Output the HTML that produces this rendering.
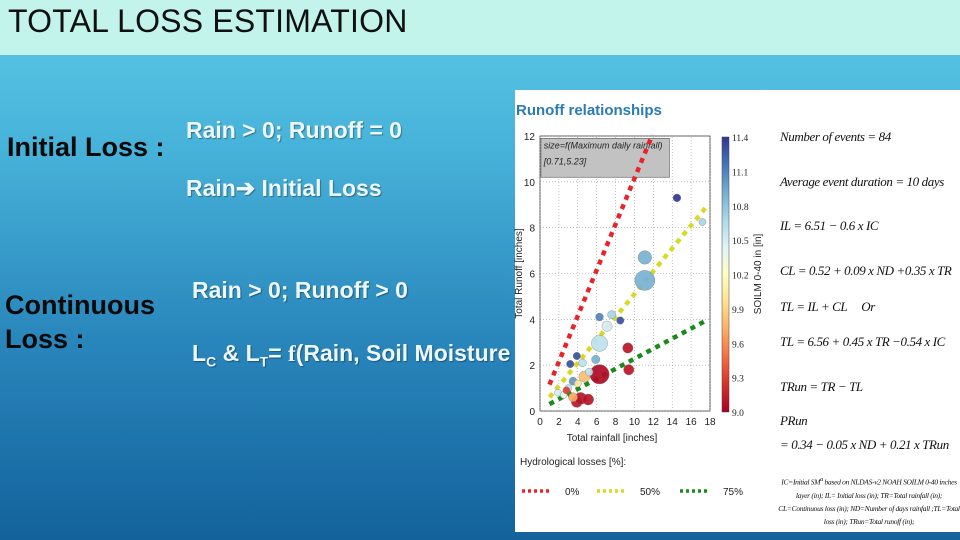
<!DOCTYPE html>
<html><head><meta charset="utf-8"><style>
html,body{margin:0;padding:0}
body{width:960px;height:540px;position:relative;overflow:hidden;font-family:"Liberation Sans",sans-serif;
background:linear-gradient(180deg,#5cc9e7 0px,#47b2d9 150px,#2a88bd 330px,#13629c 540px)}
#titlebar{position:absolute;left:0;top:0;width:960px;height:55px;background:#c3f4ec}
#title{position:absolute;left:8px;top:3px;font-size:32px;color:#111;letter-spacing:0.2px}
.lbl{position:absolute;font-weight:bold;color:#0a0a0a;font-size:27px;line-height:34px}
.wt{position:absolute;font-weight:bold;color:#eef7fb;font-size:23px;text-shadow:1px 1px 1px rgba(0,0,0,.35);white-space:nowrap}
#panel{position:absolute;left:515px;top:90px;width:445px;height:442px;background:#fff}
.eq{position:absolute;font-family:"Liberation Serif",serif;font-style:italic;font-size:13px;letter-spacing:-0.4px;color:#111;white-space:nowrap}
.fn{position:absolute;left:778px;width:182px;font-family:"Liberation Serif",serif;font-style:italic;font-size:7.5px;letter-spacing:-0.3px;line-height:13px;text-align:center;color:#111}
</style></head><body>
<div id="titlebar"><div id="title">TOTAL LOSS ESTIMATION</div></div>
<div class="lbl" style="left:7px;top:130px">Initial Loss :</div>
<div class="wt" style="left:186px;top:117px">Rain &gt; 0; Runoff = 0</div>
<div class="wt" style="left:186px;top:175px">Rain➔ Initial Loss</div>
<div class="lbl" style="left:5px;top:288px;line-height:34px">Continuous<br>Loss :</div>
<div class="wt" style="left:192px;top:277px">Rain &gt; 0; Runoff &gt; 0</div>
<div class="wt" style="left:192px;top:340px">L<sub style="font-size:14px">C</sub> &amp; L<sub style="font-size:14px">T</sub>= <span style="font-family:'Liberation Serif',serif">f</span>(Rain, Soil Moisture</div>
<div id="panel"></div>
<svg id="chart" width="960" height="540" style="position:absolute;left:0;top:0"></svg>
<div class="eq" style="left:780px;top:129px">Number of events = 84</div>
<div class="eq" style="left:780px;top:174px">Average event duration = 10 days</div>
<div class="eq" style="left:780px;top:218px">IL = 6.51 − 0.6 x IC</div>
<div class="eq" style="left:780px;top:263px">CL = 0.52 + 0.09 x ND +0.35 x TR</div>
<div class="eq" style="left:780px;top:299px">TL = IL + CL &nbsp;&nbsp;&nbsp; Or</div>
<div class="eq" style="left:780px;top:334px">TL = 6.56 + 0.45 x TR −0.54 x IC</div>
<div class="eq" style="left:780px;top:379px">TRun = TR − TL</div>
<div class="eq" style="left:780px;top:413px">PRun</div>
<div class="eq" style="left:780px;top:437px">= 0.34 − 0.05 x ND + 0.21 x TRun</div>
<div class="fn" style="top:473px">IC=Initial SM<sup>a</sup> based on NLDAS-v2 NOAH SOILM 0-40 inches layer (in); IL= Initial loss (in); TR=Total rainfall (in); CL=Continuous loss (in); ND=Number of days rainfall ;TL=Total loss (in); TRun=Total runoff (in);</div>
<script>
const xTicks=[0,2,4,6,8,10,12,14,16,18];
const yTicks=[0,2,4,6,8,10,12];
const cbTicks=[9.0,9.3,9.6,9.9,10.2,10.5,10.8,11.1,11.4];
const lossLabels=['0%','50%','75%'];
const lineSlopes=[1.0,0.5,0.22];
const lineIntercepts=[0.15,0.1,0.08];
const lineEnds=[11.9,17.6,17.6];
const ptX=[14.5,17.2,11.1,11.1,6.3,7.6,8.5,7.1,6.3,9.3,9.4,6.3,5.9,3.9,3.2,4.5,4.7,3.5,3.0,3.9,4.3,5.1,3.5,1.9,2.5,2.8,5.2,4.0];
const ptY=[9.3,8.25,6.7,5.7,4.1,4.2,3.95,3.7,2.95,2.75,1.8,1.6,2.25,2.4,2.05,2.1,1.5,1.3,1.0,0.4,0.55,0.5,0.6,0.8,0.7,0.9,1.7,1.2];
const ptSize=[1.2,1.0,3.0,5.0,1.2,1.4,1.1,2.0,3.8,2.0,2.0,4.8,1.4,1.1,1.1,1.2,2.2,1.3,1.0,2.2,2.5,2.2,1.6,0.9,0.9,1.0,1.2,1.0];
const ptSoil=[11.4,10.7,10.9,10.9,11.1,10.7,11.3,10.5,10.6,9.1,9.1,9.05,10.9,11.3,11.3,10.6,9.8,11.0,10.6,9.1,9.1,9.1,9.7,10.5,10.4,9.3,10.6,10.0];
const ns='http://www.w3.org/2000/svg';
const svg=document.getElementById('chart');
const X0=540,X1=710,Y0=411,Y1=136;
const xs=v=>X0+(v-0)/(18-0)*(X1-X0);
const ys=v=>Y0-(v-0)/(12-0)*(Y0-Y1);
function mk(t,a,p){const e=document.createElementNS(ns,t);for(const k in a)e.setAttribute(k,a[k]);(p||svg).appendChild(e);return e;}
function cmap(s){const t=Math.max(0,Math.min(1,(s-9.0)/(11.4-9.0)));
const st=[[165,0,38],[215,48,39],[244,109,67],[253,174,97],[254,224,144],[255,255,191],[224,243,248],[171,217,233],[116,173,209],[69,117,180],[49,54,149]];
const f=t*(st.length-1),i=Math.min(st.length-2,Math.floor(f)),r=f-i;
const c=st[i].map((v,j)=>Math.round(v+(st[i+1][j]-v)*r));return `rgb(${c})`;}
let e;
e=mk('text',{x:516,y:115,'font-size':15,'font-weight':'bold',fill:'#2b7bb5','font-family':'Liberation Sans Narrow, Liberation Sans, sans-serif'});e.textContent='Runoff relationships';

mk('rect',{x:X0,y:Y1,width:X1-X0,height:Y0-Y1,fill:'#fff',stroke:'#333','stroke-width':0.8});
xTicks.forEach(v=>{const g=mk('line',{x1:xs(v),x2:xs(v),y1:Y0,y2:Y1,stroke:'#999','stroke-dasharray':'1,2','stroke-width':0.6});

const t=mk('text',{x:xs(v),y:Y0+14,'font-size':10,'text-anchor':'middle',fill:'#222'});t.textContent=v;
});
yTicks.forEach(v=>{const g=mk('line',{x1:X0,x2:X1,y1:ys(v),y2:ys(v),stroke:'#999','stroke-dasharray':'1,2','stroke-width':0.6});

const t=mk('text',{x:X0-5,y:ys(v)+4,'font-size':10,'text-anchor':'end',fill:'#222'});t.textContent=v;
});
e=mk('rect',{x:xs(0.1),y:ys(11.9),width:xs(13.7)-xs(0.1),height:ys(10.2)-ys(11.9),fill:'#c2c2c2',stroke:'#555','stroke-width':0.6});

e=mk('text',{x:xs(0.4),y:ys(11.45),'font-size':9,'font-style':'italic',fill:'#222'});e.textContent='size=f(Maximum daily rainfall)';

e=mk('text',{x:xs(0.4),y:ys(10.75),'font-size':9,'font-style':'italic',fill:'#222'});e.textContent='[0.71,5.23]';

const lineCols=['#e8242a','#d8d826','#1a8a1a'];
lineSlopes.forEach((m,i)=>{const l=mk('line',{x1:xs(1),y1:ys(lineIntercepts[i]+m*1),x2:xs(lineEnds[i]),y2:ys(lineIntercepts[i]+m*lineEnds[i]),stroke:lineCols[i],'stroke-width':4.5,'stroke-dasharray':'5,5'});
});
ptX.forEach((x,i)=>{const c=mk('circle',{cx:xs(x),cy:ys(ptY[i]),r:2+ptSize[i]*1.6,fill:cmap(ptSoil[i]),stroke:'#777','stroke-width':0.4,opacity:0.92});
});
e=mk('text',{x:612,y:441,'font-size':10,'text-anchor':'middle',fill:'#222'});e.textContent='Total rainfall [inches]';

e=mk('text',{x:0,y:0,'font-size':10,'text-anchor':'middle',fill:'#222',transform:`translate(522,${(Y0+Y1)/2}) rotate(-90)`});e.textContent='Total Runoff [inches]';

const defs=mk('defs',{});const gr=mk('linearGradient',{id:'cb',x1:0,y1:1,x2:0,y2:0},defs);
for(let k=0;k<=10;k++)mk('stop',{offset:k/10,'stop-color':cmap(9.0+k*0.24)},gr);
e=mk('rect',{x:722,y:137,width:7,height:275,fill:'url(#cb)',stroke:'#444','stroke-width':0.5});

cbTicks.forEach(v=>{const y=412-(v-9.0)/(11.4-9.0)*275;const t=mk('text',{x:732,y:y+4,'font-size':9.5,fill:'#222','font-family':'Liberation Serif, serif'});t.textContent=v.toFixed(1);
});
e=mk('text',{x:0,y:0,'font-size':10,'text-anchor':'middle',fill:'#222',transform:'translate(761,274) rotate(-90)'});e.textContent='SOILM 0-40 in [in]';

e=mk('text',{x:520,y:465,'font-size':10,fill:'#222'});e.textContent='Hydrological losses [%]:';

const legX=[522,597,680];
lossLabels.forEach((lab,i)=>{const l=mk('line',{x1:legX[i],x2:legX[i]+30,y1:491,y2:491,stroke:lineCols[i],'stroke-width':3.5,'stroke-dasharray':'3,3'});

const t=mk('text',{x:legX[i]+43,y:495,'font-size':10,fill:'#222'});t.textContent=lab;
});
</script>
</body></html>
